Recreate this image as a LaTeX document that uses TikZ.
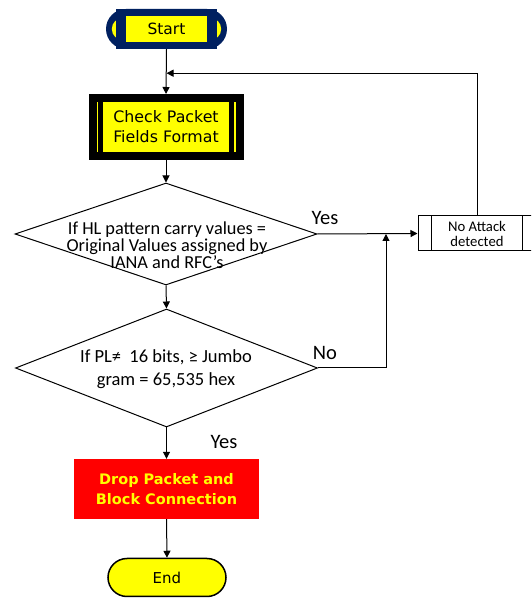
\documentclass[tikz,border=0pt]{standalone}
\usepackage{fontspec}
\setmainfont{Carlito}
\newfontfamily\boxfont{DejaVu Sans}
\definecolor{navy}{RGB}{0,32,96}
\definecolor{lemon}{RGB}{255,255,0}
\definecolor{alarm}{RGB}{255,0,0}
\usetikzlibrary{arrows.meta,shapes.geometric,calc}

\begin{document}
\begin{tikzpicture}[x=1pt,y=1pt,
    flow/.style={draw=black,line width=1pt,-{Triangle[length=7pt,width=7pt]}},
    decision/.style={diamond,draw=black,line width=1pt,fill=white,inner sep=0pt,
      minimum width=302pt},
    tag/.style={font=\fontsize{20.5}{22}\selectfont,inner sep=0pt}]
  \useasboundingbox (0,0) rectangle (531,598);
  \clip (0,0) rectangle (531,598);

  % start terminal
  \node[fill=navy,rounded corners=20pt,minimum width=121pt,minimum height=40pt,
    inner sep=0pt] (start) at (166.5,569) {};
  \fill[lemon,rounded corners=11pt] ($(start.west)+(6,-11)$) rectangle ($(start.east)+(-6,11)$);
  \fill[navy] ($(start.south west)+(10.5,0)$) rectangle ($(start.north east)+(-10.5,0)$);
  \node[fill=lemon,draw=navy,line width=0.6pt,minimum width=82pt,minimum height=27pt,
    inner sep=0pt,font=\boxfont\fontsize{15.5}{18}\selectfont] (starttext) at (start) {Start};

  % check packet fields
  \node[fill=lemon,draw=black,line width=8pt,minimum width=147pt,minimum height=58pt,
    inner sep=0pt,align=center,font=\boxfont\fontsize{15.8}{20}\selectfont] (check) at (166,471)
    {Check Packet\\Fields Format};
  \draw[line width=5.5pt] ($(check.north west)+(12,0)$) -- ($(check.south west)+(12,0)$);
  \draw[line width=5.5pt] ($(check.north east)+(-12,0)$) -- ($(check.south east)+(-12,0)$);

  % decisions
  \node[decision,minimum height=102pt] (hl) at (166,364) {};
  \node[align=center,inner sep=0pt,font=\fontsize{18.3}{17}\selectfont] (hltext) at (167,353)
    {If HL pattern carry values =\\Original Values assigned by\\IANA and RFC’s};
  \node[decision,minimum height=118pt] (pl) at (166.5,230) {};
  \node[align=center,inner sep=0pt,font=\fontsize{18.5}{23}\selectfont] (pltext) at (166,228.5)
    {If PL≠~ 16 bits, ≥ Jumbo\\gram = 65,535 hex};

  % no attack
  \node[draw=black,line width=1pt,minimum width=118pt,minimum height=35pt,inner sep=0pt,
    align=center,font=\fontsize{14.7}{15}\selectfont] (noattack) at (477,364.5)
    {No Attack\\detected};
  \draw[line width=1pt] ($(noattack.north west)+(14,0)$) -- ($(noattack.south west)+(14,0)$);
  \draw[line width=1pt] ($(noattack.north east)+(-14,0)$) -- ($(noattack.south east)+(-14,0)$);

  % drop and end
  \node[fill=alarm,minimum width=185pt,minimum height=60pt,inner sep=0pt,align=center,
    text=lemon,font=\boxfont\bfseries\fontsize{14.5}{20}\selectfont] (drop) at (166.5,109)
    {Drop Packet and\\Block Connection};
  \node[fill=lemon,draw=black,line width=1.5pt,rounded corners=19pt,minimum width=118pt,
    minimum height=38pt,inner sep=0pt,font=\boxfont\fontsize{15}{18}\selectfont] (stop) at (167,20.5) {End};

  % connectors
  \path (start.south) ++(0,-24) coordinate (back);
  \coordinate (join) at (386,364);
  \draw[flow] (start.south) -- (check.north);
  \draw[flow] (noattack.north) |- (back);
  \draw[flow] (check.south) -- (hl.north);
  \draw[flow] (hl.east) -- (noattack.west);
  \draw[flow] (hl.south) -- (pl.north);
  \draw[flow] (pl.east) -| (join);
  \draw[flow] (pl.south) -- (drop.north);
  \draw[flow] (drop.south) -- (stop.north);

  % labels
  \node[tag] (yes1) at (325,380) {Yes};
  \node[tag] (no) at (325,245) {No};
  \node[tag] (yes2) at (224,156) {Yes};
\end{tikzpicture}
\end{document}
